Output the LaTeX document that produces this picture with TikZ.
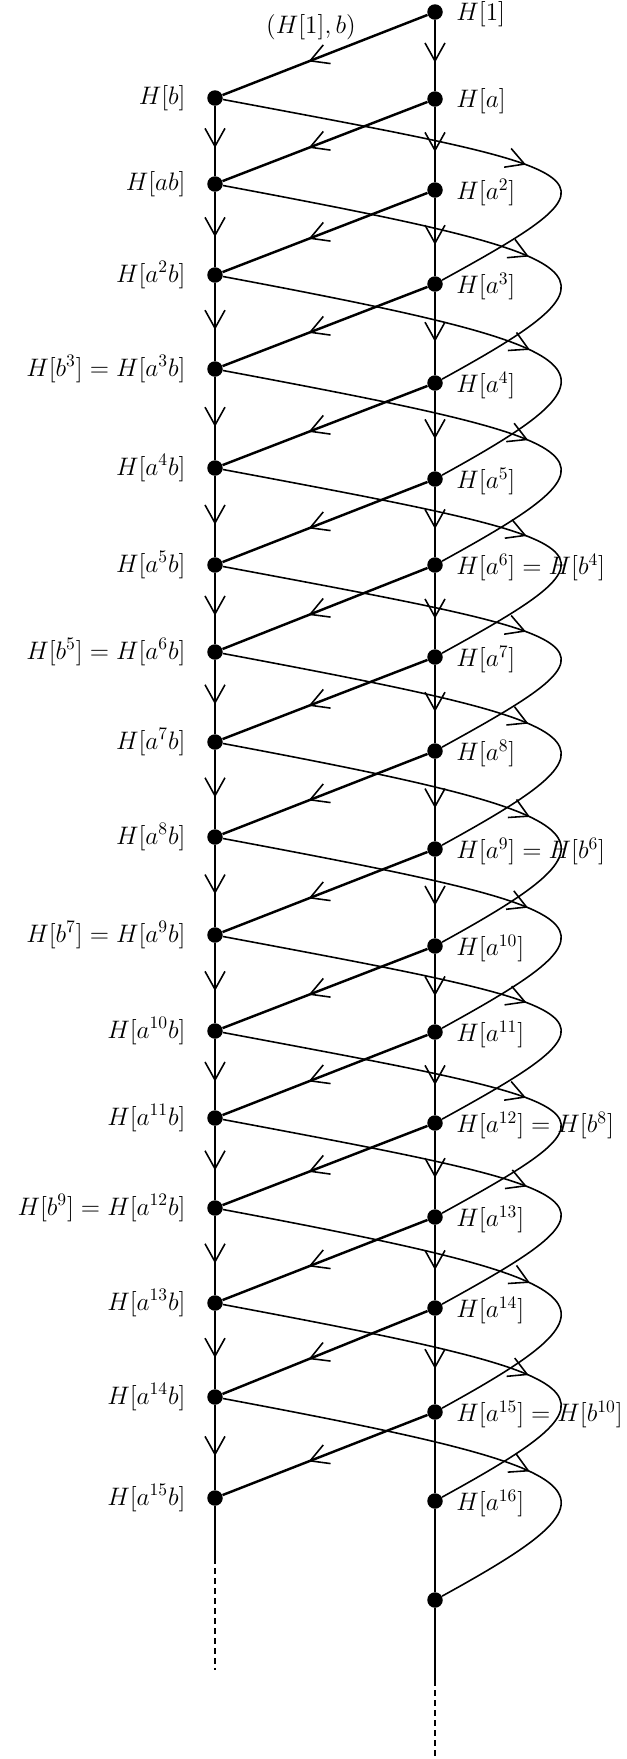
\documentclass[tikz,border=0pt]{standalone}
\usetikzlibrary{arrows.meta,decorations.markings}

\begin{document}
\begin{tikzpicture}[x=0.02cm, y=-0.02cm]
    \tikzstyle{coset} = [circle, fill=black, inner sep=0pt, minimum size=0.31cm]
    \tikzstyle{cosetlabel} = [inner sep=0pt, font=\Large]
    \tikzstyle{column} = [line width=0.8pt, decoration={markings, mark=at position 0.6 with {\arrow{Straight Barb[length=3.6mm, width=4mm, line width=0.9pt]}}}]
    \tikzstyle{hop} = [line width=1.4pt, decoration={markings, mark=at position 0.58 with {\arrow{Straight Barb[length=3.6mm, width=4mm, line width=0.9pt]}}}, postaction={decorate}]
    \tikzstyle{swing} = [line width=0.9pt, decoration={markings, mark=at position 0.61 with {\arrow{Straight Barb[length=3.6mm, width=4mm, line width=0.9pt]}}}, postaction={decorate}]

    \useasboundingbox (0,0) rectangle (626,1759);

    % Right column: H[a^k]
    \foreach \k/\y/\txt in {0/12/{$H[1]$}, 1/99/{$H[a]$}, 2/190/{$H[a^2]$}, 3/284/{$H[a^3]$},
        4/383/{$H[a^4]$}, 5/479/{$H[a^5]$}, 6/565/{$H[a^6] = H[b^4]$}, 7/657/{$H[a^7]$},
        8/751/{$H[a^8]$}, 9/849/{$H[a^9] = H[b^6]$}, 10/946/{$H[a^{10}]$}, 11/1032/{$H[a^{11}]$},
        12/1123/{$H[a^{12}] = H[b^8]$}, 13/1217/{$H[a^{13}]$}, 14/1308/{$H[a^{14}]$},
        15/1412/{$H[a^{15}] = H[b^{10}]$}, 16/1501/{$H[a^{16}]$}} {
        \node [coset] (r\k) at (435,\y) {};
        \node [cosetlabel, anchor=west] (rt\k) at ([xshift=0.26cm, yshift=-0.05cm]r\k.east) {\txt};
    }
    \node [coset] (r17) at (435,1600) {};

    % Left column: H[a^k b]
    \foreach \k/\y/\txt in {1/98/{$H[b]$}, 2/184/{$H[ab]$}, 3/275/{$H[a^2b]$}, 4/369/{$H[b^3] = H[a^3b]$},
        5/468/{$H[a^4b]$}, 6/565/{$H[a^5b]$}, 7/652/{$H[b^5] = H[a^6b]$}, 8/742/{$H[a^7b]$},
        9/837/{$H[a^8b]$}, 10/935/{$H[b^7] = H[a^9b]$}, 11/1031/{$H[a^{10}b]$}, 12/1118/{$H[a^{11}b]$},
        13/1208/{$H[b^9] = H[a^{12}b]$}, 14/1303/{$H[a^{13}b]$}, 15/1397/{$H[a^{14}b]$},
        16/1498/{$H[a^{15}b]$}} {
        \node [coset] (l\k) at (215,\y) {};
        \node [cosetlabel, anchor=east] (lt\k) at ([xshift=-0.42cm]l\k.west) {\txt};
    }

    % Columns
    \foreach \k [evaluate=\k as \m using int(\k+1)] in {0,...,14}
        \draw [column, postaction={decorate}] (r\k) -- (r\m);
    \draw [column] (r15) -- (r16) -- (r17);
    \foreach \k [evaluate=\k as \m using int(\k+1)] in {1,...,15}
        \draw [column, postaction={decorate}] (l\k) -- (l\m);

    % Dashed ends
    \coordinate (lcut) at (215,1558);
    \coordinate (lend) at (215,1670);
    \coordinate (rcut) at (435,1680);
    \coordinate (rend) at (435,1757);
    \draw [column] (l16) -- (lcut);
    \draw [column, dash pattern=on 0.12cm off 0.08cm] (lcut) -- (lend);
    \draw [column] (r17) -- (rcut);
    \draw [column, dash pattern=on 0.12cm off 0.08cm] (rcut) -- (rend);

    % Multiplying by b
    \draw [hop] (r0) -- (l1);
    \node [cosetlabel] (hb) at (311,27) {$(H[1],b)$};
    \foreach \k [evaluate=\k as \m using int(\k+1)] in {1,...,15}
        \draw [hop] (r\k) -- (l\m);

    % Swings back to the right
    \foreach \k [evaluate=\k as \m using int(\k+2)] in {1,...,15}
        \draw [swing] (l\k) .. controls +(400,75) and +(200,-110) .. (r\m);
\end{tikzpicture}
\end{document}
